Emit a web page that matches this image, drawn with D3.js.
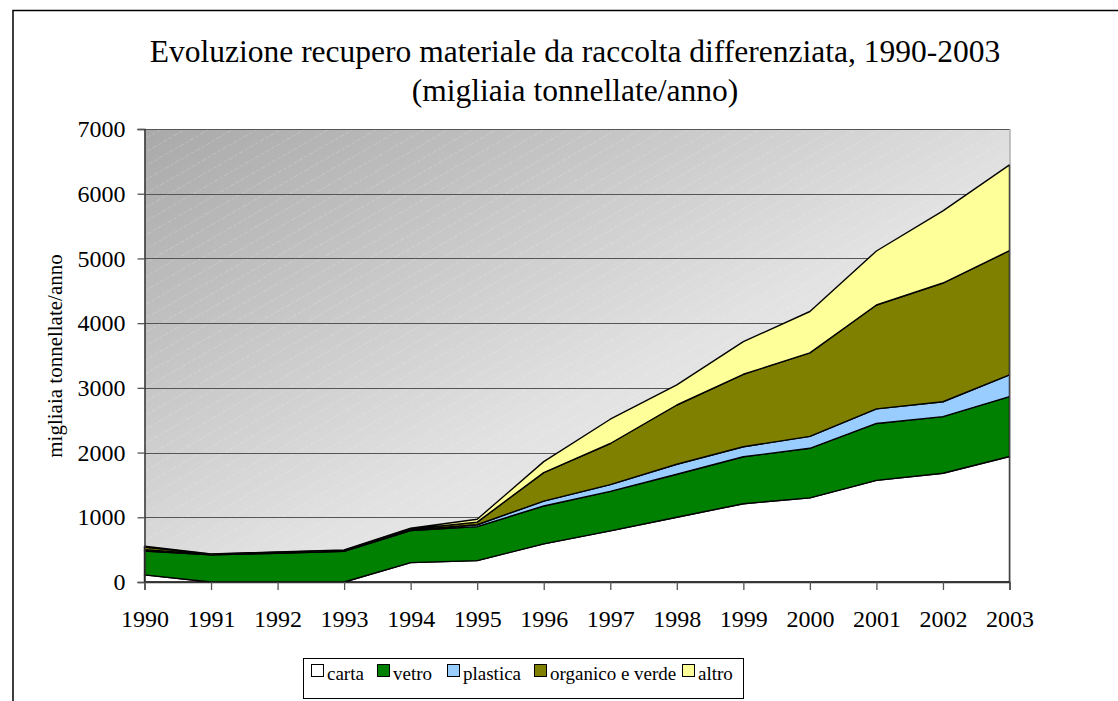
<!DOCTYPE html>
<html>
<head>
<meta charset="utf-8">
<script src="https://cdn.jsdelivr.net/npm/d3@7"></script>
<style>
  body { margin: 0; background: #fff; }
  svg text { font-family: "Liberation Serif", "Times New Roman", serif; fill: #000; }
</style>
</head>
<body>
<script>
// data (migliaia tonnellate/anno)
var years = [1990, 1991, 1992, 1993, 1994, 1995, 1996, 1997, 1998, 1999, 2000, 2001, 2002, 2003];
var carta = [110, 0, 0, 0, 300, 330, 590, 790, 1000, 1210, 1300, 1570, 1680, 1940];
var vetro = [370, 420, 445, 475, 495, 525, 585, 610, 665, 725, 766, 880, 875, 925];
var plastica = [20, 5, 7, 7, 10, 30, 75, 105, 155, 155, 184, 225, 230, 335];
var organico = [40, 5, 8, 6, 15, 40, 440, 635, 915, 1120, 1290, 1605, 1835, 1920];
var altro = [15, 5, 5, 7, 10, 45, 170, 375, 310, 505, 640, 835, 1115, 1325];
var seriesNames = ["carta", "vetro", "plastica", "organico e verde", "altro"];
var seriesColors = ["#ffffff", "#008000", "#99ccff", "#808000", "#ffff99"];
var yTicks = [0, 1000, 2000, 3000, 4000, 5000, 6000, 7000];

var W = 1118, H = 701;
var plotL = 144.5, plotR = 1009.5, plotT = 129, plotB = 582;
var serif = "Liberation Serif, Times New Roman, serif";

var svg = d3.select("body").append("svg")
    .attr("width", W)
    .attr("height", H)
    .attr("font-family", serif);

// outer chart frame (only left and top edges fall inside the picture)
svg.append("path")
    .attr("d", "M13,710 L13,10.5 L1130,10.5")
    .attr("fill", "none")
    .attr("stroke", "#000")
    .attr("stroke-width", 1.5);

var x = d3.scaleLinear().domain([1990, 2003]).range([plotL, plotR]);
var y = d3.scaleLinear().domain([0, 7000]).range([plotB, plotT]);

var defs = svg.append("defs");
var grad = defs.append("linearGradient")
    .attr("id", "bg")
    .attr("x1", "0%").attr("y1", "0%")
    .attr("x2", "100%").attr("y2", "100%");
grad.append("stop").attr("offset", "0%").attr("stop-color", "#a9a9a9");
grad.append("stop").attr("offset", "55%").attr("stop-color", "#e2e2e2");
grad.append("stop").attr("offset", "100%").attr("stop-color", "#f7f7f7");

var pat = defs.append("pattern")
    .attr("id", "hatch")
    .attr("patternUnits", "userSpaceOnUse")
    .attr("width", 12).attr("height", 12)
    .attr("patternTransform", "rotate(-30)");
pat.append("line")
    .attr("x1", 0).attr("y1", 0).attr("x2", 12).attr("y2", 0)
    .attr("stroke", "#fff")
    .attr("stroke-opacity", 0.35)
    .attr("stroke-dasharray", "3,2");

svg.append("rect")
    .attr("x", plotL).attr("y", plotT)
    .attr("width", plotR - plotL).attr("height", plotB - plotT)
    .attr("fill", "url(#bg)");
svg.append("rect")
    .attr("x", plotL).attr("y", plotT)
    .attr("width", plotR - plotL).attr("height", plotB - plotT)
    .attr("fill", "url(#hatch)");

// gridlines
svg.selectAll("line.grid")
    .data(yTicks.slice(1))
    .enter().append("line")
    .attr("class", "grid")
    .attr("x1", plotL).attr("x2", plotR)
    .attr("y1", function (d) { return Math.round(y(d)) + 0.5; })
    .attr("y2", function (d) { return Math.round(y(d)) + 0.5; })
    .attr("stroke", "#555")
    .attr("stroke-width", 1);

// stacked areas
var rows = years.map(function (yr, i) {
    return { year: yr, carta: carta[i], vetro: vetro[i], plastica: plastica[i],
        "organico e verde": organico[i], altro: altro[i] };
});
var stack = d3.stack().keys(seriesNames);
var layers = stack(rows);

var area = d3.area()
    .x(function (d) { return x(d.data.year); })
    .y0(function (d) { return y(d[0]); })
    .y1(function (d) { return y(d[1]); });

svg.selectAll("path.layer")
    .data(layers)
    .enter().append("path")
    .attr("class", "layer")
    .attr("d", area)
    .attr("fill", function (d, i) { return seriesColors[i]; })
    .attr("stroke", "#000")
    .attr("stroke-width", 1.4)
    .attr("stroke-linejoin", "round");

// right edge of plot area
svg.append("line")
    .attr("x1", plotR + 0.5).attr("x2", plotR + 0.5)
    .attr("y1", plotT).attr("y2", plotB)
    .attr("stroke", "#888");

// axes
var yAxis = svg.append("g")
    .attr("transform", "translate(" + plotL + ",0)")
    .call(d3.axisLeft(y).tickValues(yTicks).tickSize(7).tickPadding(12).tickFormat(d3.format("d")));
var xAxis = svg.append("g")
    .attr("transform", "translate(0," + plotB + ")")
    .call(d3.axisBottom(x).tickValues(years).tickSize(8).tickPadding(20).tickFormat(d3.format("d")));

[yAxis, xAxis].forEach(function (g) {
    g.attr("font-family", serif).attr("font-size", 24);
    g.select(".domain").attr("stroke", "#333").attr("stroke-width", 1.5);
    g.selectAll(".tick line").attr("stroke", "#555").attr("stroke-width", 1.3);
    g.selectAll("text").attr("fill", "#000");
});

// titles
svg.append("text")
    .attr("x", 575).attr("y", 62)
    .attr("text-anchor", "middle")
    .attr("font-size", 31.5)
    .text("Evoluzione recupero materiale da raccolta differenziata, 1990-2003");
svg.append("text")
    .attr("x", 575).attr("y", 101)
    .attr("text-anchor", "middle")
    .attr("font-size", 31.5)
    .text("(migliaia tonnellate/anno)");

svg.append("text")
    .attr("transform", "translate(62,356) rotate(-90)")
    .attr("text-anchor", "middle")
    .attr("font-size", 21)
    .text("migliaia tonnellate/anno");

// legend
var legend = svg.append("g").attr("transform", "translate(303,658)");
legend.append("rect")
    .attr("x", 0.5).attr("y", 0.5)
    .attr("width", 440).attr("height", 40)
    .attr("fill", "#fff")
    .attr("stroke", "#000");

var legendX = [8, 74, 144, 231, 379];
var item = legend.selectAll("g.item")
    .data(seriesNames)
    .enter().append("g")
    .attr("class", "item")
    .attr("transform", function (d, i) { return "translate(" + legendX[i] + ",0)"; });
item.append("rect")
    .attr("x", 0.5).attr("y", 6.5)
    .attr("width", 12).attr("height", 12)
    .attr("fill", function (d, i) { return seriesColors[i]; })
    .attr("stroke", "#000");
item.append("text")
    .attr("x", 16).attr("y", 22)
    .attr("font-size", 19)
    .text(function (d) { return d; });
</script>
</body>
</html>
